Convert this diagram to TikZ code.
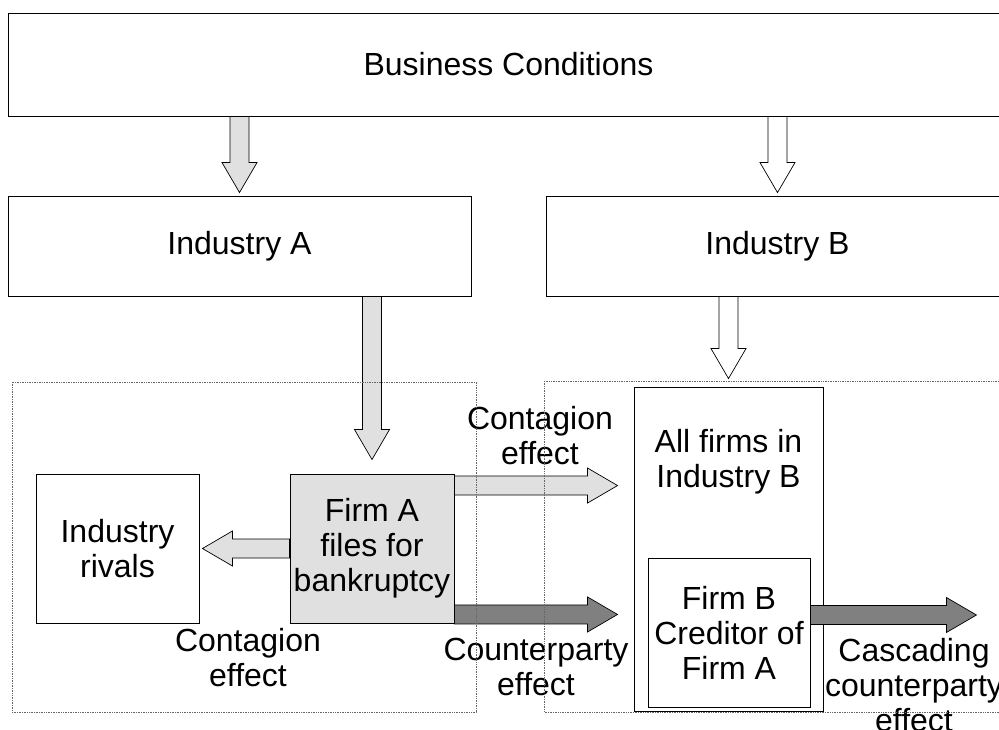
\documentclass[tikz,border=0pt]{standalone}
\usepackage{fontspec}
\setmainfont{Liberation Sans}
\usetikzlibrary{shapes,arrows,calc,positioning}

\definecolor{lgray}{HTML}{E0E0E0}
\definecolor{dgray}{HTML}{808080}

\begin{document}
\begin{tikzpicture}[x=1pt, y=-1pt,
  every node/.style={font=\fontsize{32}{35}\selectfont},
  box/.style={draw, line width=0.9pt, inner sep=0pt, align=center},
  frame/.style={draw=gray!80!black, densely dotted, line width=0.7pt},
  lbl/.style={align=center, inner sep=0pt},
  fat/.style={draw, line width=0.7pt, to path={
    let \p1=($(\tikztotarget)-(\tikztostart)$), \n1={atan2(\y1,\x1)}, \n2={veclen(\x1,\y1)} in
    ($(\tikztostart)+(\n1+90:9.5pt)$) -- ($(\tikztostart)+(\n1:\n2-30pt)+(\n1+90:9.5pt)$)
    -- ($(\tikztostart)+(\n1:\n2-30pt)+(\n1+90:17.5pt)$) -- (\tikztotarget)
    -- ($(\tikztostart)+(\n1:\n2-30pt)+(\n1-90:17.5pt)$) -- ($(\tikztostart)+(\n1:\n2-30pt)+(\n1-90:9.5pt)$)
    -- ($(\tikztostart)+(\n1-90:9.5pt)$) -- cycle}}]
  \useasboundingbox[fill=white] (0,0) rectangle (999,729);

  \node[box, minimum width=1001pt, minimum height=103pt] (bc) at (508.5,64.5) {Business Conditions};
  \node[box, minimum width=463pt, minimum height=100pt] (ia) at (239.5,246) {Industry A};
  \node[box, minimum width=463pt, minimum height=100pt] (ib) at (777.5,246) {Industry B};
  \node[box, minimum width=163pt, minimum height=149pt] (rivals) at (117.5,548.5) {Industry\\rivals};
  \node[box, fill=lgray, minimum width=164pt, minimum height=149pt] (firma) at (372,548.5) {Firm A\\files for\\bankruptcy};
  \node[box, minimum width=189pt, minimum height=324pt] (allb) at (728.5,549) {};
  \node[lbl] (allbtxt) at (728.5,462) {All firms in\\Industry B};
  \node[box, minimum width=162pt, minimum height=149pt] (firmb) at (729,632.5) {Firm B\\Creditor of\\Firm A};

  \node[lbl] (contl) at (248,658) {Contagion\\effect};
  \node[lbl] (contr) at (540,436) {Contagion\\effect};
  \node[lbl] (cpty) at (536,667) {Counterparty\\effect};
  \node[lbl] (casc) at (914,685) {Cascading\\counterparty\\effect};

  \coordinate (iain) at ([yshift=3pt]ia.north);
  \coordinate (ibin) at ([yshift=3pt]ib.north);
  \coordinate (fain) at ([yshift=14pt]firma.north);
  \coordinate (allin) at ([yshift=8pt]allb.north);
  \coordinate (rivin) at ([xshift=3pt]rivals.east);
  \coordinate (cstart) at ([yshift=-12pt]firma.north east);
  \coordinate (ctip) at ($(allb.west |- cstart)+(-16pt,0)$);
  \coordinate (kstart) at ([yshift=9pt]firma.south east);
  \coordinate (ktip) at ($(allb.west |- kstart)+(-16pt,0)$);
  \coordinate (sstart) at ([yshift=17.5pt]firmb.east);
  \coordinate (stip) at ($(sstart)+(166pt,0)$);

  \draw[fat, fill=lgray] (ia.north |- bc.south) to (iain);
  \draw[fat, fill=white] (ib.north |- bc.south) to (ibin);
  \draw[fat, fill=lgray] (firma.north |- ia.south) to (fain);
  \draw[fat, fill=white] (allb.north |- ib.south) to (allin);
  \draw[fat, fill=lgray] (firma.west) to (rivin);
  \draw[fat, fill=lgray] (cstart) to (ctip);
  \draw[fat, fill=dgray] (kstart) to (ktip);
  \draw[fat, fill=dgray] (sstart) to (stip);

  \draw[frame] (12,382) rectangle (476,712);
  \draw[frame] (544,381) rectangle (1020,712);
\end{tikzpicture}
\end{document}
